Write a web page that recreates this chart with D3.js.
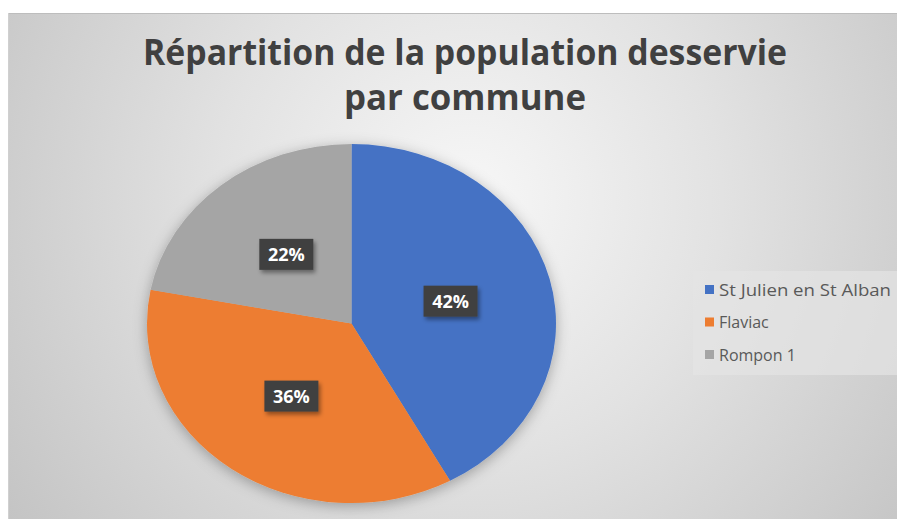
<!DOCTYPE html>
<html>
<head>
<meta charset="utf-8">
<script src="https://cdn.jsdelivr.net/npm/d3@7"></script>
<style>
  html, body { margin: 0; padding: 0; background: #fff; }
  svg { display: block; }
</style>
</head>
<body>
<div id="chart"></div>
<script>
// data
const communes = ["St Julien en St Alban", "Flaviac", "Rompon 1"]
const parts = [42, 36, 22]
const colors = ["#4472c4", "#ed7d31", "#a5a5a5"]
const titleLines = ["Répartition de la population desservie", "par commune"]

const width = 897
const height = 519
const box = { x: 8, y: 13 }

const svg = d3.select("#chart")
  .append("svg")
  .attr("width", width)
  .attr("height", height)

const defs = svg.append("defs")

// Grey radial background, light toward top middle
const bg = defs.append("radialGradient")
  .attr("id", "bg")
  .attr("gradientUnits", "userSpaceOnUse")
  .attr("cx", 470).attr("cy", 200).attr("r", 560)
bg.append("stop").attr("offset", "0%").attr("stop-color", "#f7f7f7")
bg.append("stop").attr("offset", "45%").attr("stop-color", "#e2e2e2")
bg.append("stop").attr("offset", "100%").attr("stop-color", "#c4c4c4")

const shadow = defs.append("filter").attr("id", "pieShadow")
  .attr("x", "-20%").attr("y", "-20%").attr("width", "140%").attr("height", "140%")
shadow.append("feDropShadow")
  .attr("dx", 0).attr("dy", 3).attr("stdDeviation", 7)
  .attr("flood-color", "#000").attr("flood-opacity", 0.3)

const lblShadow = defs.append("filter").attr("id", "lblShadow")
  .attr("x", "-30%").attr("y", "-30%").attr("width", "160%").attr("height", "160%")
lblShadow.append("feDropShadow")
  .attr("dx", 2).attr("dy", 3).attr("stdDeviation", 2)
  .attr("flood-color", "#000").attr("flood-opacity", 0.4)

// Chart area
svg.append("rect")
  .attr("x", box.x).attr("y", box.y)
  .attr("width", width - box.x).attr("height", height - box.y)
  .attr("fill", "url(#bg)")
svg.append("line")
  .attr("x1", box.x).attr("x2", width)
  .attr("y1", box.y + 0.5).attr("y2", box.y + 0.5)
  .attr("stroke", "#bdbdbd")
svg.append("line")
  .attr("x1", box.x + 0.5).attr("x2", box.x + 0.5)
  .attr("y1", box.y).attr("y2", height)
  .attr("stroke", "#d0d0d0")

// Title (condensed to match the narrow original face)
svg.append("g")
  .selectAll("text")
  .data(titleLines)
  .join("text")
  .attr("x", 465)
  .attr("y", (d, i) => 65 + i * 45)
  .attr("text-anchor", "middle")
  .attr("font-family", "'Open Sans', sans-serif")
  .attr("font-weight", 700)
  .attr("font-size", 35)
  .attr("fill", "#404040")
  .attr("textLength", (d, i) => i === 0 ? 644 : 242)
  .attr("lengthAdjust", "spacingAndGlyphs")
  .text(d => d)

// Pie (elliptical: circle of radius ry stretched horizontally)
const cx = 351.5, cy = 323.5, rx = 204.5, ry = 179.5

const pie = d3.pie().sort(null).value(d => d)
const arcs = pie(parts)
const arc = d3.arc().innerRadius(0).outerRadius(ry)
const labelArc = d3.arc().innerRadius(ry * 0.5).outerRadius(ry * 0.5)

const pieG = svg.append("g")
  .attr("transform", `translate(${cx},${cy})`)
  .attr("filter", "url(#pieShadow)")

pieG.append("g")
  .attr("transform", `scale(${rx / ry},1)`)
  .selectAll("path")
  .data(arcs)
  .join("path")
  .attr("d", arc)
  .attr("fill", (d, i) => colors[i])

// Data labels
const total = d3.sum(parts)
const fmt = d3.format(".0%")
const labels = svg.append("g")
  .attr("transform", `translate(${cx},${cy})`)
  .selectAll("g")
  .data(arcs)
  .join("g")
  .attr("transform", d => {
    const [x, y] = labelArc.centroid(d)
    return `translate(${x * rx / ry},${y})`
  })

labels.append("rect")
  .attr("x", -27).attr("y", -15.5)
  .attr("width", 54).attr("height", 31)
  .attr("fill", "#404040")
  .attr("filter", "url(#lblShadow)")

labels.append("text")
  .attr("text-anchor", "middle")
  .attr("dy", "0.36em")
  .attr("font-family", "'Open Sans', sans-serif")
  .attr("font-weight", 700)
  .attr("font-size", 18)
  .attr("fill", "#ffffff")
  .text(d => fmt(d.data / total))

// Legend
const legend = svg.append("g")
legend.append("rect")
  .attr("x", 693).attr("y", 271)
  .attr("width", width - 693).attr("height", 104)
  .attr("fill", "#e4e4e4")
  .attr("fill-opacity", 0.7)

const legendY = d3.scalePoint()
  .domain(communes)
  .range([290, 355])

const items = legend.selectAll("g")
  .data(communes)
  .join("g")
  .attr("transform", d => `translate(705,${legendY(d)})`)

items.append("rect")
  .attr("x", 0).attr("y", -5)
  .attr("width", 9).attr("height", 9)
  .attr("fill", (d, i) => colors[i])

items.append("text")
  .attr("x", 14)
  .attr("dy", "0.35em")
  .attr("font-family", "'Open Sans', sans-serif")
  .attr("font-size", 16)
  .attr("fill", "#595959")
  .attr("textLength", d => d === communes[0] ? 172 : null)
  .attr("lengthAdjust", "spacingAndGlyphs")
  .text(d => d)
</script>
</body>
</html>
